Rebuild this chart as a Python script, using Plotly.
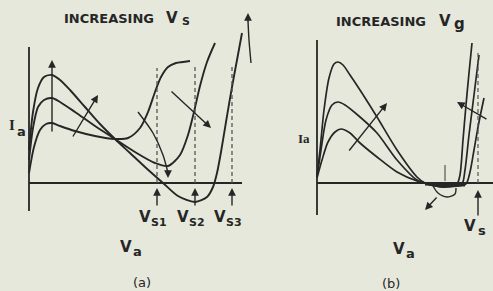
import plotly.graph_objects as go

# ---------------- data (Va, Ia in arbitrary chart units) ----------------
# panel (a): three Ia-Va curves for increasing Vs
a_top_va = [0, 4, 9, 15, 23, 31, 41, 56, 71, 86, 101, 116, 134, 149, 166, 178, 184, 188, 192, 197, 203, 208, 213]
a_top_ia = [33, 71, 95, 106, 108, 103, 93, 76, 59, 44, 30, 16, 0, -13, -19, -14, -4, 10, 31, 61, 96, 123, 150]
a_mid_va = [0, 4, 9, 15, 23, 31, 46, 66, 86, 106, 126, 139, 151, 159, 165, 171, 178, 186]
a_mid_ia = [23, 55, 76, 83, 85, 81, 71, 57, 44, 31, 20, 17, 28, 48, 71, 97, 121, 140]
a_low_va = [0, 5, 11, 17, 23, 31, 46, 66, 86, 99, 111, 119, 126, 132, 139, 147, 154, 161]
a_low_ia = [10, 36, 53, 59, 60, 57, 52, 47, 44, 45, 55, 71, 91, 106, 116, 120, 121, 122]
a_vs_pos = [128, 166, 203]
a_vs_top = [115, 118, 116]
a_vs_labels = ["1", "2", "3"]

# panel (b): three Ia-Va curves for increasing Vg
b_top_va = [0, 3, 7, 12, 17, 21, 26, 33, 43, 60, 80, 100, 108, 118, 133, 140, 143, 146, 149, 152, 155]
b_top_ia = [7, 33, 73, 105, 119, 121, 118, 108, 93, 66, 33, 6, 0, -3, -3, -1, 8, 43, 78, 110, 140]
b_mid_va = [0, 4, 9, 15, 21, 28, 43, 60, 80, 100, 108, 123, 138, 145, 148, 152, 157, 162]
b_mid_ia = [6, 33, 63, 78, 81, 78, 66, 50, 23, 3, 0, -4, -3, -1, 13, 48, 88, 128]
b_low_va = [0, 5, 11, 18, 24, 33, 43, 60, 80, 100, 108, 123, 141, 149, 153, 157, 162, 167]
b_low_ia = [5, 23, 41, 51, 54, 50, 40, 26, 11, 2, 0, -3, -3, -1, 11, 33, 61, 85]
b_vs_pos = 161
b_vs_top = 133
b_loop_va = [116, 121, 130, 138, 139]
b_loop_ia = [-3, -10, -14, -11, -5]

W, H = 493, 291
BG = "#e7e8dc"
INK = "#262626"
SANS = "DejaVu Sans, Liberation Sans, Arial"
SERIF = "Liberation Serif, Times New Roman"

fig = go.Figure()

def line(xs, ys, xa="x", width=1.9, dash=None, color=INK, shape="spline"):
    fig.add_trace(go.Scatter(x=xs, y=ys, mode="lines", xaxis=xa, yaxis="y",
                             line=dict(color=color, width=width, dash=dash, shape=shape, smoothing=0.8),
                             hoverinfo="skip", showlegend=False))

# axes of panel (a)
line([0, 0], [-28, 136], shape="linear", width=1.8)
line([0, 213], [0, 0], shape="linear", width=1.8)
# curves (a)
for xs, ys in [(a_top_va, a_top_ia), (a_mid_va, a_mid_ia), (a_low_va, a_low_ia)]:
    line(xs, ys)
# dashed Vs lines (a)
for p, t in zip(a_vs_pos, a_vs_top):
    line([p, p], [0, t], shape="linear", width=1.3, dash="4px,3px", color="#555")
# curved arrow shafts (a)
line([109, 124, 134, 139], [71, 50, 28, 10], width=1.4)
line([222, 220, 219], [120, 143, 162], width=1.4)

# axes of panel (b)
line([0, 0], [-32, 143], xa="x2", shape="linear", width=1.8)
line([0, 176], [0, 0], xa="x2", shape="linear", width=1.8)
for xs, ys in [(b_top_va, b_top_ia), (b_mid_va, b_mid_ia), (b_low_va, b_low_ia)]:
    line(xs, ys, xa="x2", width=1.7)
line([b_vs_pos, b_vs_pos], [0, b_vs_top], xa="x2", shape="linear", width=1.2, dash="4px,3px", color="#555")
line([108, 148], [-1, -2], xa="x2", shape="linear", width=3.2)
line(b_loop_va, b_loop_ia, xa="x2", width=1.4)
line([128, 128], [18, 2], xa="x2", shape="linear", width=1.2, color="#555")

ann = []
def arrow(hx, hy, tx, ty, xa="x", w=1.4):
    ann.append(dict(x=hx, y=hy, ax=tx, ay=ty, xref=xa, yref="y", axref=xa, ayref="y",
                    showarrow=True, arrowhead=2, arrowsize=1.1, arrowwidth=w, arrowcolor=INK, text=""))

# arrows (a)
arrow(23, 123, 23, 50)
arrow(69, 88, 43, 45)
arrow(182, 55, 141, 93)
arrow(139, 5, 139, 14)
arrow(219, 170, 219, 160)
for p in a_vs_pos:
    arrow(p, -5, p, -24)
# arrows (b)
arrow(70, 80, 31, 31, xa="x2")
arrow(140, 81, 171, 63, xa="x2")
arrow(b_vs_pos, -7, b_vs_pos, -34, xa="x2")
arrow(108, -27, 121, -13, xa="x2")

def txt(s, px, py, size, family=SANS, bold=False, anchor="center"):
    if bold:
        s = "<b>" + s + "</b>"
    ann.append(dict(text=s, x=px / W, y=1 - py / H, xref="paper", yref="paper", showarrow=False,
                    xanchor=anchor, yanchor="middle", font=dict(size=size, family=family, color=INK)))

# titles
txt("INCREASING", 109, 18, 13, bold=True)
txt("V", 172, 18, 15, bold=True)
txt("S", 186, 22, 11, bold=True)
txt("INCREASING", 381, 22, 13, bold=True)
txt("V", 445, 21, 15, bold=True)
txt("g", 459, 24, 15, bold=True)
# Ia labels
txt("I", 12, 125, 15, family=SERIF, bold=True)
txt("a", 21, 131, 13, family=SANS, bold=True)
txt("Ia", 304, 138, 13, family=SERIF, bold=True)
# Vs labels (a)
for p, lab in zip(a_vs_pos, a_vs_labels):
    px = p + 29
    txt("V", px - 12, 217, 15, bold=True)
    txt("S" + lab, px + 2, 222, 11, bold=True)
# Va labels
txt("V", 126, 247, 15, bold=True)
txt("a", 137, 251, 13, bold=True)
txt("V", 399, 249, 15, bold=True)
txt("a", 410, 253, 13, bold=True)
txt("(a)", 142, 282, 13)
txt("(b)", 391, 283, 13)
txt("V", 470, 226, 15, bold=True)
txt("s", 482, 230, 13, bold=True)

ax_common = dict(visible=False, showgrid=False, zeroline=False, fixedrange=True)
fig.update_layout(
    width=W, height=H, margin=dict(l=0, r=0, t=0, b=0),
    paper_bgcolor=BG, plot_bgcolor=BG,
    xaxis=dict(range=[-29, W - 29], domain=[0, 1], **ax_common),
    xaxis2=dict(range=[-317, W - 317], domain=[0, 1], overlaying="x", **ax_common),
    yaxis=dict(range=[-(H - 183), 183], domain=[0, 1], **ax_common),
    annotations=ann,
    showlegend=False,
)
fig.write_html("out.html", config={"displayModeBar": False},
               post_script="document.body.style.margin='0';document.body.style.overflow='hidden';document.body.style.background='" + BG + "';")
